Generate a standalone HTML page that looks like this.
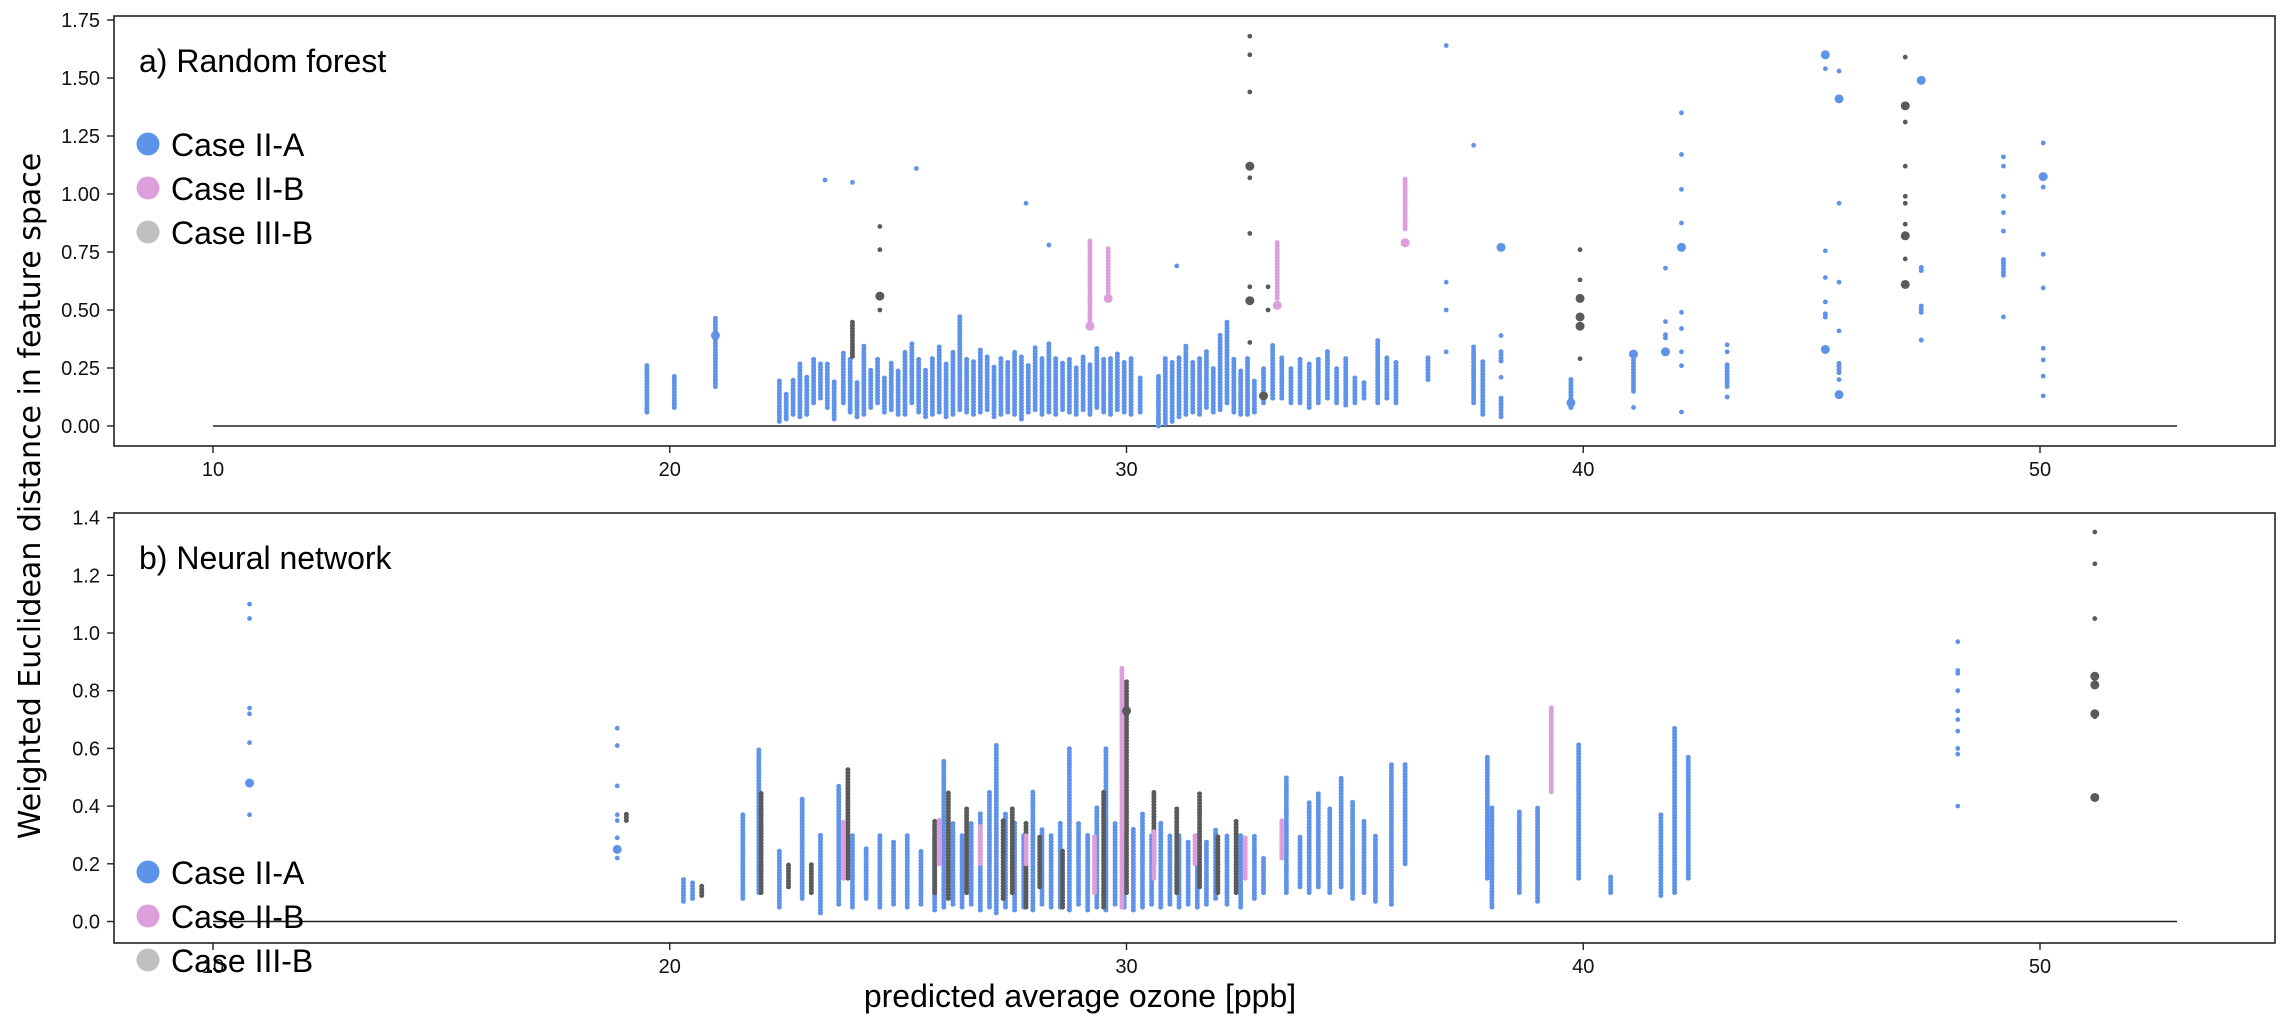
<!DOCTYPE html>
<html><head><meta charset="utf-8"><style>
html,body{margin:0;padding:0;background:#fff;}
svg{display:block;font-family:"Liberation Sans",sans-serif;}
</style></head><body>
<svg id="chart" width="2288" height="1026" viewBox="0 0 2288 1026">
<g id="g"></g>
</svg>
<script>
// ---- data (x = predicted ozone ppb, y = distance) ----
var xTicks = [10, 20, 30, 40, 50];
var yTicksA = [0, 0.25, 0.5, 0.75, 1.0, 1.25, 1.5, 1.75];
var yTickLabelsA = ["0.00","0.25","0.50","0.75","1.00","1.25","1.50","1.75"];
var yTicksB = [0, 0.2, 0.4, 0.6, 0.8, 1.0, 1.2, 1.4];
var yTickLabelsB = ["0.0","0.2","0.4","0.6","0.8","1.0","1.2","1.4"];
var legendLabels = ["Case II-A","Case II-B","Case III-B"];

// panel a strips [x, yLow, yHigh]
var stripsA_blue = [[19.5,0.06,0.27],[20.1,0.08,0.22],[21.0,0.17,0.47],[22.4,0.02,0.2],[22.55,0.03,0.15],[22.7,0.05,0.2],[22.85,0.04,0.28],[23.0,0.05,0.22],[23.15,0.1,0.3],[23.3,0.12,0.28],[23.45,0.08,0.27],[23.6,0.03,0.2],[23.8,0.1,0.32],[23.95,0.06,0.3],[24.1,0.04,0.2],[24.25,0.05,0.35],[24.4,0.08,0.25],[24.55,0.1,0.3],[24.7,0.06,0.22],[24.85,0.07,0.28],[25.0,0.05,0.25],[25.15,0.05,0.32],[25.3,0.1,0.36],[25.45,0.06,0.3],[25.6,0.04,0.25],[25.75,0.05,0.3],[25.9,0.06,0.35],[26.05,0.04,0.27],[26.2,0.05,0.33],[26.35,0.07,0.48],[26.5,0.06,0.3],[26.65,0.05,0.28],[26.8,0.06,0.34],[26.95,0.07,0.3],[27.1,0.04,0.26],[27.25,0.05,0.3],[27.4,0.06,0.28],[27.55,0.05,0.32],[27.7,0.03,0.3],[27.85,0.06,0.27],[28.0,0.07,0.34],[28.15,0.05,0.3],[28.3,0.06,0.36],[28.45,0.05,0.3],[28.6,0.07,0.28],[28.75,0.06,0.3],[28.9,0.05,0.26],[29.05,0.07,0.3],[29.2,0.05,0.27],[29.35,0.08,0.34],[29.5,0.06,0.3],[29.65,0.05,0.3],[29.8,0.07,0.32],[29.95,0.06,0.28],[30.1,0.05,0.3],[30.3,0.06,0.22],[30.7,0.0,0.22],[30.85,0.01,0.3],[31.0,0.02,0.28],[31.15,0.04,0.3],[31.3,0.05,0.35],[31.45,0.06,0.28],[31.6,0.05,0.3],[31.75,0.08,0.33],[31.9,0.06,0.25],[32.05,0.07,0.4],[32.2,0.1,0.45],[32.35,0.06,0.3],[32.5,0.05,0.25],[32.65,0.05,0.3],[32.8,0.06,0.2],[33.0,0.1,0.25],[33.2,0.12,0.35],[33.4,0.12,0.3],[33.6,0.1,0.25],[33.8,0.1,0.3],[34.0,0.08,0.27],[34.2,0.1,0.3],[34.4,0.12,0.33],[34.6,0.1,0.26],[34.8,0.09,0.3],[35.0,0.1,0.22],[35.2,0.12,0.2],[35.5,0.1,0.38],[35.7,0.12,0.3],[35.9,0.1,0.28],[36.6,0.2,0.3],[37.6,0.1,0.35],[37.8,0.05,0.28],[38.2,0.04,0.13],[38.2,0.28,0.33],[39.73,0.08,0.21],[41.1,0.15,0.31],[41.8,0.38,0.4],[43.15,0.17,0.27],[45.3,0.47,0.49],[45.6,0.23,0.28],[47.4,0.67,0.69],[47.4,0.49,0.53],[47.4,0.37,0.38],[49.2,0.65,0.72]];
var stripsA_pink = [[29.2,0.45,0.8],[29.6,0.55,0.77],[33.3,0.55,0.8],[36.1,0.85,1.07]];
var stripsA_gray = [[24.0,0.3,0.45]];
// panel a points [x, y, big(0/1)]
var ptsA_blue = [[23.4,1.06,0],[24.0,1.05,0],[25.4,1.11,0],[27.8,0.96,0],[28.3,0.78,0],[31.1,0.69,0],[37.0,1.64,0],[37.6,1.21,0],[37.0,0.62,0],[37.0,0.5,0],[37.0,0.32,0],[38.2,0.77,1],[38.2,0.39,0],[38.2,0.21,0],[39.73,0.1,1],[41.1,0.31,1],[41.1,0.08,0],[41.8,0.68,0],[41.8,0.45,0],[41.8,0.32,1],[42.15,1.35,0],[42.15,1.17,0],[42.15,1.02,0],[42.15,0.875,0],[42.15,0.77,1],[42.15,0.49,0],[42.15,0.42,0],[42.15,0.32,0],[42.15,0.26,0],[42.15,0.06,0],[43.15,0.35,0],[43.15,0.32,0],[43.15,0.125,0],[45.3,1.6,1],[45.3,1.54,0],[45.3,0.755,0],[45.3,0.64,0],[45.3,0.535,0],[45.3,0.33,1],[45.6,1.53,0],[45.6,1.41,1],[45.6,0.96,0],[45.6,0.62,0],[45.6,0.41,0],[45.6,0.2,0],[45.6,0.135,1],[47.4,1.49,1],[49.2,1.16,0],[49.2,1.12,0],[49.2,0.99,0],[49.2,0.92,0],[49.2,0.84,0],[49.2,0.47,0],[50.07,1.22,0],[50.07,1.075,1],[50.07,1.03,0],[50.07,0.74,0],[50.07,0.595,0],[50.07,0.335,0],[50.07,0.285,0],[50.07,0.215,0],[50.07,0.13,0],[21.0,0.39,1]];
var ptsA_pink = [[29.2,0.43,1],[29.6,0.55,1],[33.3,0.52,1],[36.1,0.79,1]];
var ptsA_gray = [[24.6,0.86,0],[24.6,0.76,0],[24.6,0.56,1],[24.6,0.5,0],[32.7,1.68,0],[32.7,1.6,0],[32.7,1.44,0],[32.7,1.12,1],[32.7,1.07,0],[32.7,0.83,0],[32.7,0.6,0],[32.7,0.54,1],[32.7,0.36,0],[33.0,0.13,1],[33.1,0.6,0],[33.1,0.5,0],[39.93,0.76,0],[39.93,0.63,0],[39.93,0.55,1],[39.93,0.47,1],[39.93,0.43,1],[39.93,0.29,0],[47.05,1.59,0],[47.05,1.38,1],[47.05,1.31,0],[47.05,1.12,0],[47.05,0.99,0],[47.05,0.96,0],[47.05,0.87,0],[47.05,0.82,1],[47.05,0.72,0],[47.05,0.61,1]];

// panel b
var stripsB_blue = [[20.3,0.07,0.15],[20.5,0.08,0.14],[21.6,0.08,0.38],[21.95,0.1,0.6],[22.4,0.05,0.25],[22.9,0.08,0.43],[23.3,0.03,0.3],[23.7,0.06,0.47],[24.0,0.05,0.3],[24.3,0.08,0.26],[24.6,0.05,0.3],[24.9,0.06,0.28],[25.2,0.05,0.3],[25.5,0.06,0.25],[25.8,0.04,0.3],[26.0,0.05,0.56],[26.2,0.06,0.35],[26.4,0.05,0.3],[26.6,0.06,0.35],[26.8,0.04,0.38],[27.0,0.05,0.45],[27.15,0.03,0.62],[27.35,0.05,0.38],[27.55,0.04,0.35],[27.75,0.05,0.3],[27.95,0.04,0.45],[28.15,0.06,0.32],[28.35,0.05,0.3],[28.55,0.05,0.35],[28.75,0.04,0.6],[28.95,0.06,0.35],[29.15,0.04,0.3],[29.35,0.05,0.4],[29.55,0.04,0.6],[29.75,0.06,0.35],[29.95,0.05,0.3],[30.15,0.04,0.32],[30.35,0.05,0.38],[30.55,0.06,0.3],[30.75,0.05,0.35],[30.95,0.06,0.3],[31.15,0.05,0.3],[31.35,0.06,0.28],[31.55,0.05,0.3],[31.75,0.06,0.28],[31.95,0.08,0.32],[32.2,0.06,0.3],[32.5,0.05,0.3],[32.8,0.08,0.3],[33.0,0.1,0.22],[33.5,0.1,0.5],[33.8,0.12,0.3],[34.0,0.1,0.42],[34.2,0.12,0.45],[34.45,0.1,0.4],[34.7,0.12,0.5],[34.95,0.08,0.42],[35.2,0.1,0.35],[35.45,0.07,0.3],[35.8,0.06,0.55],[36.1,0.2,0.55],[37.9,0.15,0.57],[38.0,0.05,0.4],[38.6,0.1,0.38],[39.0,0.07,0.4],[39.9,0.15,0.62],[40.6,0.1,0.16],[41.7,0.09,0.37],[42.0,0.1,0.67],[42.3,0.15,0.57]];
var stripsB_gray = [[19.05,0.35,0.38],[20.7,0.09,0.13],[22.0,0.1,0.45],[22.6,0.12,0.2],[23.1,0.1,0.2],[23.9,0.15,0.53],[25.8,0.1,0.35],[26.1,0.08,0.45],[26.5,0.1,0.4],[27.3,0.08,0.35],[27.5,0.1,0.4],[27.8,0.05,0.35],[28.1,0.12,0.3],[28.6,0.05,0.25],[29.5,0.05,0.45],[30.0,0.1,0.84],[30.6,0.2,0.45],[31.1,0.1,0.4],[31.6,0.12,0.45],[32.0,0.1,0.3],[32.4,0.1,0.35]];
var stripsB_pink = [[23.8,0.15,0.35],[25.9,0.2,0.36],[26.8,0.2,0.33],[27.8,0.2,0.3],[29.3,0.1,0.3],[29.9,0.05,0.88],[30.6,0.15,0.32],[31.5,0.2,0.3],[32.6,0.15,0.3],[33.4,0.22,0.35],[39.3,0.45,0.75]];
var ptsB_blue = [[10.8,1.1,0],[10.8,1.05,0],[10.8,0.74,0],[10.8,0.72,0],[10.8,0.62,0],[10.8,0.48,1],[10.8,0.37,0],[18.85,0.67,0],[18.85,0.61,0],[18.85,0.47,0],[18.85,0.37,0],[18.85,0.35,0],[18.85,0.29,0],[18.85,0.25,1],[18.85,0.22,0],[48.2,0.97,0],[48.2,0.87,0],[48.2,0.86,0],[48.2,0.8,0],[48.2,0.73,0],[48.2,0.7,0],[48.2,0.66,0],[48.2,0.6,0],[48.2,0.58,0],[48.2,0.4,0]];
var ptsB_gray = [[51.2,1.35,0],[51.2,1.24,0],[51.2,1.05,0],[51.2,0.85,1],[51.2,0.82,1],[51.2,0.72,1],[51.2,0.71,0],[51.2,0.43,1],[30.0,0.73,1]];

// ---- layout ----
var AX_L = 114, AX_R = 2275;
var PA = {top:16, bottom:446, y0:426, k:232};
var PB = {top:513, bottom:943, y0:921.5, k:288.5};
function xs(v){ return 213 + (v - 10) * 45.675; }
function yA(v){ return PA.y0 - v * PA.k; }
function yB(v){ return PB.y0 - v * PB.k; }
var COL = {blue:"#5f93ea", pink:"#dd9fdc", gray:"#5a5a5a"};
var NS = "http://www.w3.org/2000/svg";
var root = document.getElementById("g");
function mk(tag, attrs, parent){
  var e = document.createElementNS(NS, tag);
  for (var k in attrs) e.setAttribute(k, attrs[k]);
  (parent || root).appendChild(e);
  return e;
}

function drawPanel(P, yf, ticks, tickLabels, title, strips, pts, panelName){
  var g = mk("g", {});
  
  
  var z = mk("line", {x1:xs(10), x2:xs(53), y1:yf(0), y2:yf(0), stroke:"#222", "stroke-width":1.5}, g);
  
  
  strips.forEach(function(s){
    s.data.forEach(function(d){
      var l = mk("line", {x1:xs(d[0]), x2:xs(d[0]), y1:yf(d[1]), y2:yf(d[2]), stroke:COL[s.c], "stroke-width":5, "stroke-linecap":"round", "stroke-dasharray":"0 3.1"}, g);
      
      
    });
  });
  pts.forEach(function(s){
    s.data.forEach(function(d){
      var c = mk("circle", {cx:xs(d[0]), cy:yf(d[1]), r:d[2] ? 4.5 : 2.4, fill:COL[s.c]}, g);
      
      
    });
  });
  var f = mk("rect", {x:AX_L, y:P.top, width:AX_R - AX_L, height:P.bottom - P.top, fill:"none", stroke:"#222", "stroke-width":1.6}, g);
  
  
  ticks.forEach(function(t, i){
    var y = yf(t);
    mk("line", {x1:AX_L - 7, x2:AX_L, y1:y, y2:y, stroke:"#222", "stroke-width":1.4}, g);
    var tx = mk("text", {x:AX_L - 14, y:y + 7, "text-anchor":"end", "font-size":20, fill:"#111"}, g);
    tx.textContent = tickLabels[i];
    
    
  });
  xTicks.forEach(function(t){
    var x = xs(t);
    mk("line", {x1:x, x2:x, y1:P.bottom, y2:P.bottom + 7, stroke:"#222", "stroke-width":1.4}, g);
    var tx = mk("text", {x:x, y:P.bottom + 30, "text-anchor":"middle", "font-size":20, fill:"#111"}, g);
    tx.textContent = String(t);
    
    
  });
  var tt = mk("text", {x:139, y:P.top + 56, "font-size":32, fill:"#000"}, g);
  tt.textContent = title;
  
  
}

function drawLegend(y0, gap){
  var cols = ["#5f93ea", "#dd9fdc", "#c0c0c0"];
  legendLabels.forEach(function(lab, i){
    var y = y0 + i * gap;
    var c = mk("circle", {cx:148, cy:y, r:11.5, fill:cols[i]});
    
    
    var t = mk("text", {x:171, y:y + 12, "font-size":32, fill:"#000"});
    t.textContent = lab;
    
    
  });
}

drawPanel(PA, yA, yTicksA, yTickLabelsA, "a) Random forest",
  [{c:"blue", data:stripsA_blue}, {c:"pink", data:stripsA_pink}, {c:"gray", data:stripsA_gray}],
  [{c:"blue", data:ptsA_blue}, {c:"pink", data:ptsA_pink}, {c:"gray", data:ptsA_gray}], "panel-random-forest");
drawPanel(PB, yB, yTicksB, yTickLabelsB, "b) Neural network",
  [{c:"blue", data:stripsB_blue}, {c:"gray", data:stripsB_gray}, {c:"pink", data:stripsB_pink}],
  [{c:"blue", data:ptsB_blue}, {c:"gray", data:ptsB_gray}], "panel-neural-network");
drawLegend(144, 44);
drawLegend(872, 44);

var yl = mk("text", {x:0, y:0, transform:"translate(40,496) rotate(-90)", "text-anchor":"middle", "font-size":30, fill:"#000", "font-family":"DejaVu Sans, sans-serif"});
yl.textContent = "Weighted Euclidean distance in feature space";


var xl = mk("text", {x:1080, y:1007, "text-anchor":"middle", "font-size":32, fill:"#000"});
xl.textContent = "predicted average ozone [ppb]";


</script>
</body></html>
